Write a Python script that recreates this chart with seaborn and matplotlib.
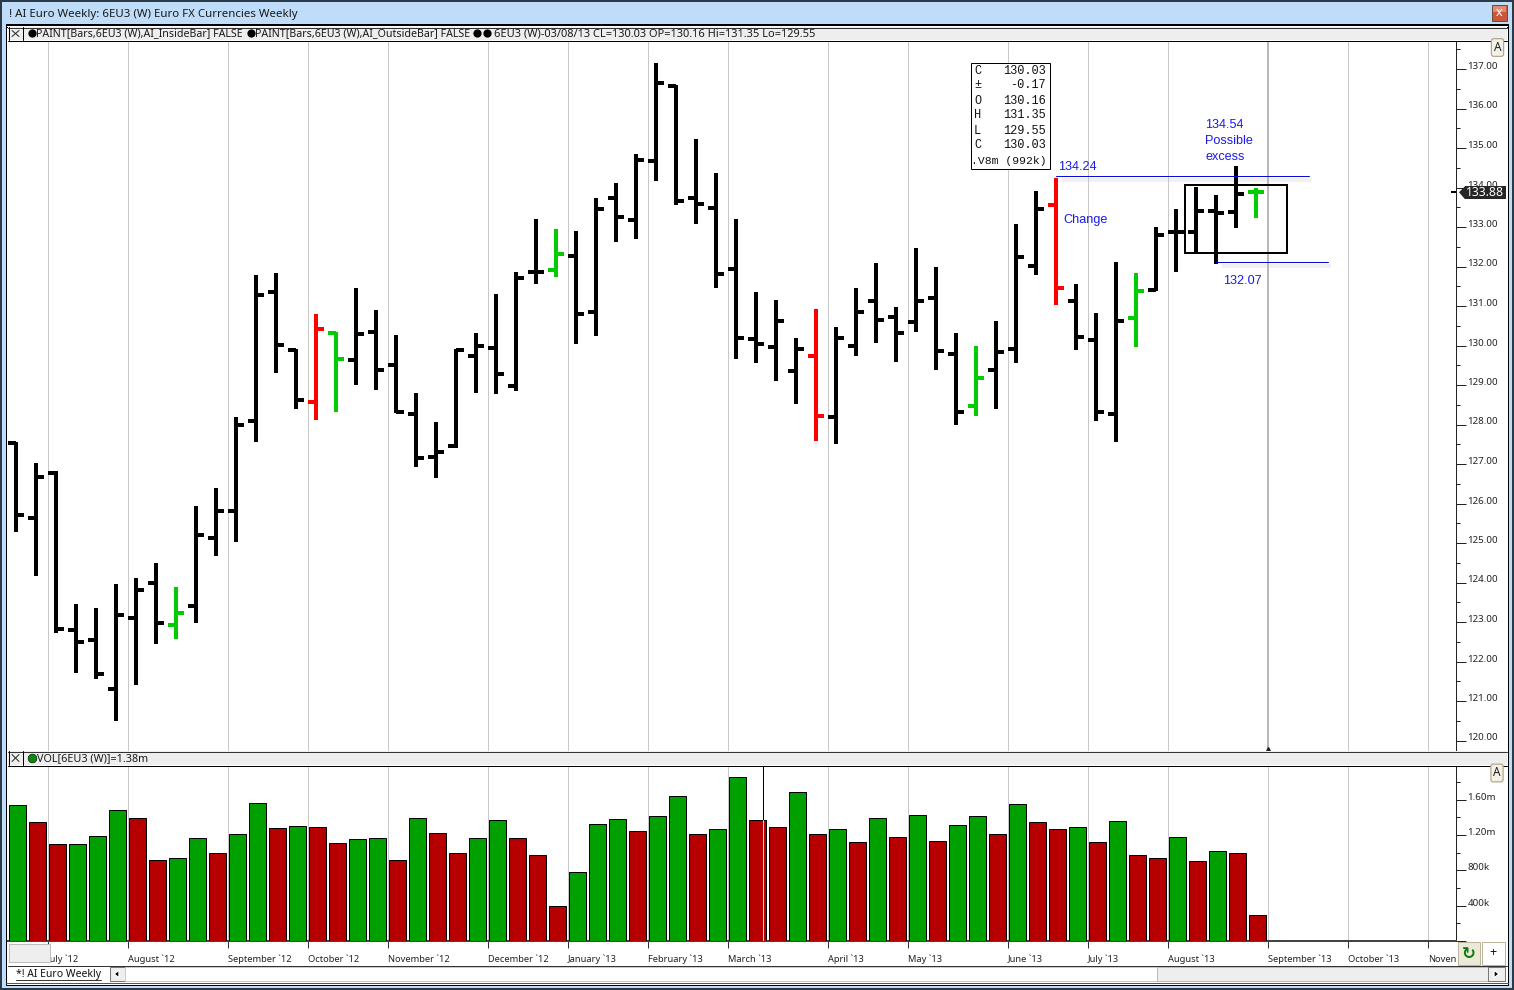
import matplotlib
matplotlib.use("Agg")
import matplotlib.pyplot as plt
from matplotlib.patches import Rectangle, Polygon
from matplotlib.ticker import MultipleLocator, FuncFormatter
import numpy as np
import pandas as pd
import seaborn as sns

# ---------- data ----------
opens = [127.54,125.64,126.77,122.80,122.54,121.30,123.10,123.99,122.92,123.41,125.13,125.81,128.09,131.35,129.89,128.57,130.32,129.63,130.34,129.51,128.27,127.18,127.46,129.73,129.94,128.97,131.86,131.91,132.27,130.85,133.73,133.18,134.67,136.57,133.73,133.48,131.94,130.16,129.97,129.36,129.74,128.20,129.99,131.13,130.73,130.60,131.21,129.79,128.48,129.39,129.92,132.02,133.56,131.13,130.15,128.27,130.70,131.41,132.87,132.87,133.41,133.39,133.88]
highs = [127.56,127.02,126.82,123.46,123.35,123.96,124.11,124.49,123.88,125.93,126.38,128.18,131.78,131.83,129.92,130.80,130.35,131.46,130.89,130.26,128.79,128.06,129.92,130.31,131.30,131.85,133.19,132.94,132.89,133.73,134.11,134.84,137.14,136.60,135.22,134.36,133.19,131.35,131.14,130.18,130.92,130.46,131.45,132.08,130.97,132.46,131.98,130.31,129.98,130.61,133.07,133.90,134.24,131.55,130.82,132.11,131.83,132.99,133.45,134.01,133.81,134.54,133.98]
lows = [125.29,124.17,122.71,121.72,121.55,120.50,121.41,122.45,122.58,122.98,124.68,125.03,127.56,129.31,128.40,128.12,128.32,128.99,128.88,128.28,126.93,126.65,127.40,128.81,128.78,128.86,131.56,131.74,130.05,130.25,132.63,132.70,134.17,133.56,133.08,131.46,129.67,129.55,129.11,128.53,127.59,127.51,129.74,130.07,129.59,130.35,129.39,127.99,128.22,128.40,129.56,131.79,131.03,129.89,128.10,127.56,129.97,131.38,131.87,132.35,132.07,132.98,133.24]
closes = [125.71,126.67,122.82,122.49,121.68,123.18,123.81,122.97,123.23,125.20,125.81,127.99,131.29,130.01,128.62,130.42,129.66,130.29,129.38,128.32,127.15,127.30,129.89,129.99,129.28,131.71,131.86,132.32,130.80,133.46,133.25,134.70,136.65,133.66,133.58,131.81,130.20,130.03,130.63,129.92,128.22,130.20,130.86,130.65,130.32,131.13,129.87,128.32,129.18,129.84,132.25,133.46,131.46,130.22,128.32,130.63,131.39,132.81,132.87,133.41,133.36,133.84,133.88]
green_bars = [8, 16, 27, 48, 56, 62]
red_bars = [15, 40, 52]

volumes_k = [1543,1350,1101,1101,1192,1486,1396,920,943,1169,1000,1215,1566,1283,1305,1294,1113,1158,1169,920,1396,1226,1000,1169,1373,1169,977,400,784,1328,1384,1249,1418,1645,1215,1271,1860,1373,1294,1690,1215,1271,1124,1396,1181,1430,1135,1317,1418,1215,1554,1350,1271,1294,1124,1362,977,943,1181,909,1022,1000,298]
volume_up = "GRRGGGRRGGRGGRGRRGGRGRRGGRRRGGGRGGRGGRRGRGRGRGRGGRGRRGRGRRGRGRR"

month_slots = [2,6,11,15,19,24,28,32,36,41,45,50,54,58,63,67,71]
month_labels = ["July `12","August `12","September `12","October `12","November `12","December `12",
                "January `13","February `13","March `13","April `13","May `13","June `13","July `13",
                "August `13","September `13","October `13","Noven"]

quote_rows = [("C","130.03"),("±","-0.17"),("O","130.16"),("H","131.35"),("L","129.55"),("C","130.03")]
last_price = 133.88
upper_note, lower_note = "134.24", "132.07"
upper_level = 134.30
lower_level = 132.11
box_top, box_bottom = 134.06, 132.34

# ---------- theme ----------
sns.set_theme(style="white")
UI = "Noto Sans"
plt.rcParams["font.family"] = [UI, "DejaVu Sans"]
W, H = 1514, 990
fig = plt.figure(figsize=(W/100, H/100), dpi=100, facecolor="white")
px = 0.72

def axes_px(l, t, r, b, **kw):
    return fig.add_axes([l/W, 1-b/H, (r-l)/W, (b-t)/H], **kw)

# background chrome
bg = axes_px(0, 0, W, H, zorder=0)
bg.set_xlim(0, W); bg.set_ylim(H, 0); bg.axis("off")
def rect(a, x0, y0, x1, y1, fc, ec="none", lw=0, **kw):
    a.add_patch(Rectangle((x0, y0), x1-x0, y1-y0, facecolor=fc, edgecolor=ec, linewidth=lw*px, **kw))
rect(bg, 0, 0, W, H, "#BFDDF9")
rect(bg, 0, 0, W, 2, "#2B3A48")
rect(bg, 0, 0, 2, H, "#2B3A48")
rect(bg, W-2, 0, W, H, "#2B3A48")
rect(bg, 0, H-2, W, H, "#2B3A48")
rect(bg, 6, 24, 1508, 985, "white", "black", 1)
bg.plot([6, 1508], [24.5, 24.5], color="black", lw=1*px)
bg.plot([6, 1508], [26.5, 26.5], color="black", lw=1*px)

# ---------- price panel ----------
ymin = 137 - (751-69)/39.5
ymax = 137 + (69-41)/39.5
xmax = (1456-8)/20
ax = axes_px(8, 41, 1456, 751, zorder=2)

rows = []
for i, (o, h, l, c) in enumerate(zip(opens, highs, lows, closes)):
    tone = "up" if i in green_bars else ("down" if i in red_bars else "plain")
    x = i + 0.4
    rows += [dict(x=x, price=l, tone=tone, unit=f"{i}s"), dict(x=x, price=h, tone=tone, unit=f"{i}s"),
             dict(x=x-0.4, price=o, tone=tone, unit=f"{i}o"), dict(x=x, price=o, tone=tone, unit=f"{i}o"),
             dict(x=x, price=c, tone=tone, unit=f"{i}c"), dict(x=x+0.4, price=c, tone=tone, unit=f"{i}c")]
ohlc = pd.DataFrame(rows)
sns.lineplot(data=ohlc, x="x", y="price", hue="tone", units="unit", estimator=None, sort=False,
             palette={"plain": "black", "up": "#00CC00", "down": "#FF0000"},
             linewidth=4*px, solid_capstyle="butt", legend=False, ax=ax, zorder=3)
ax.set_xlim(0, xmax); ax.set_ylim(ymin, ymax)
ax.set_xlabel(""); ax.set_ylabel("")
ax.set_axisbelow(True)
ax.set_xticks(month_slots); ax.set_xticklabels([])
ax.tick_params(axis="x", length=0)
ax.grid(axis="x", color="#C8C8C8", lw=1*px)
ax.grid(axis="y", visible=False)
ax.axvline(63, color="#B8B8B8", lw=2*px, zorder=1)
ax.yaxis.tick_right()
ax.yaxis.set_major_locator(MultipleLocator(1))
ax.yaxis.set_minor_locator(MultipleLocator(0.5))
ax.yaxis.set_major_formatter(FuncFormatter(lambda v, _: f"{v:.2f}"))
ax.tick_params(axis="y", which="major", length=10*px, width=1*px, color="#222222", pad=1, labelsize=7.0, labelcolor="#222222", right=True)
ax.tick_params(axis="y", which="minor", length=3.5*px, width=1*px, color="#222222", right=True)
for t in ax.get_yticklabels():
    t.set_va("baseline")
for s in ["top", "left", "bottom"]:
    ax.spines[s].set_visible(False)
ax.spines["right"].set_color("#222222"); ax.spines["right"].set_linewidth(1*px)

# annotations
BLUE = "#1A1AF0"
LINE = "#0A0AD8"
ax.plot([52.7, 65.15], [upper_level-0.1]*2, color="#BBBBBB", lw=4*px, alpha=0.2, solid_capstyle="butt", zorder=2)
ax.plot([60.7, 66.15], [lower_level-0.1]*2, color="#BBBBBB", lw=4*px, alpha=0.2, solid_capstyle="butt", zorder=2)
ax.plot([52.4, 65.05], [upper_level]*2, color=LINE, lw=1*px, zorder=4)
ax.plot([60.4, 66.0], [lower_level]*2, color=LINE, lw=1*px, zorder=4)
ax.add_patch(Rectangle((58.85, box_bottom), 5.1, box_top-box_bottom, fill=False, edgecolor="black", lw=2*px, zorder=4))
ax.plot([63], [ymin+0.02], marker="^", color="#222222", ms=5, clip_on=False, zorder=6)

# ---------- volume panel ----------
vax = axes_px(8, 766, 1456, 941, zorder=2)
vol = pd.DataFrame({"slot": np.arange(len(volumes_k)) + 0.47, "volume": volumes_k,
                    "tone": ["up" if c == "G" else "down" for c in volume_up]})
sns.barplot(data=vol, x="slot", y="volume", hue="tone", native_scale=True, dodge=False, width=0.89,
            palette={"up": "#00A000", "down": "#B60000"}, saturation=1, edgecolor="black",
            linewidth=1*px, legend=False, ax=vax, zorder=3)
vax.set_xlim(0, xmax); vax.set_ylim(0, (941-766)*11.32)
vax.set_xlabel(""); vax.set_ylabel("")
vax.set_axisbelow(True)
vax.set_xticks(month_slots)
vax.set_xticklabels(month_labels, ha="left", fontsize=6.7, color="#222222")
vax.tick_params(axis="x", length=7*px, width=1*px, color="#333333", pad=4.8, bottom=True)
vax.grid(axis="x", color="#C8C8C8", lw=1*px)
vax.grid(axis="y", visible=False)
vax.yaxis.tick_right()
vax.yaxis.set_major_locator(MultipleLocator(400))
vax.yaxis.set_minor_locator(MultipleLocator(200))
vax.yaxis.set_major_formatter(FuncFormatter(lambda v, _: "" if v <= 0 else (f"{v/1000:.2f}m" if v >= 1000 else f"{v:.0f}k")))
vax.tick_params(axis="y", which="major", length=10*px, width=1*px, color="#222222", pad=1, labelsize=7.0, labelcolor="#222222", right=True)
vax.tick_params(axis="y", which="minor", length=3.5*px, width=1*px, color="#222222", right=True)
for t in vax.get_yticklabels():
    t.set_va("baseline")
for s in ["top", "left"]:
    vax.spines[s].set_visible(False)
vax.spines["right"].set_color("#222222"); vax.spines["right"].set_linewidth(1*px)
vax.spines["bottom"].set_color("#444444"); vax.spines["bottom"].set_linewidth(2*px)
vax.axvline(37.75, ymin=volumes_k[37]/((941-766)*11.32), color="black", lw=1*px, zorder=5)
vax.axvline(37.75, ymax=volumes_k[37]/((941-766)*11.32), color="#BFE6E6", lw=1*px, zorder=5)

# ---------- overlay chrome ----------
fg = axes_px(0, 0, W, H, zorder=5)
fg.set_xlim(0, W); fg.set_ylim(H, 0); fg.axis("off"); fg.patch.set_alpha(0)

def label(x, y, s, size=8.0, color="#1A1A1A", ha="left", family=UI, **kw):
    return fg.text(x, y, s, fontsize=size, color=color, ha=ha, va="center", family=family, **kw)

label(9, 14, "! AI Euro Weekly: 6EU3 (W) Euro FX Currencies Weekly", size=8.25)

def header(y0, y1):
    rect(fg, 8, y0, 1507, y1, "#EEEEEE")
    fg.plot([8, 1507], [y0+0.5]*2, color="#333333", lw=1*px)
    fg.plot([8, 1507], [y1+0.5]*2, color="black", lw=1*px)
    fg.plot([8.5, 8.5], [y0, y1], color="black", lw=1*px)
    fg.plot([22.5, 22.5], [y0, y1], color="black", lw=1*px)
    fg.plot([12, 19], [y0+3.5, y1-3.5], color="#222222", lw=0.7)
    fg.plot([12, 19], [y1-3.5, y0+3.5], color="#222222", lw=0.7)

header(27, 40)
header(751, 765)
for cx in [32, 251, 477, 487]:
    fg.plot([cx], [33], marker="o", color="black", ms=7.5*px*1.1, mew=0)
label(36, 33.5, "PAINT[Bars,6EU3 (W),AI_InsideBar] FALSE", size=7.65)
label(255, 33.5, "PAINT[Bars,6EU3 (W),AI_OutsideBar] FALSE", size=7.65)
label(494, 33.5, "6EU3 (W)-03/08/13 CL=130.03 OP=130.16 Hi=131.35 Lo=129.55", size=7.95)
fg.plot([32], [758], marker="o", color="#0A8A0A", mec="black", mew=0.4, ms=8*px*1.1)
label(37, 758.5, "VOL[6EU3 (W)]=1.38m", size=7.75)

# close button
rect(fg, 1492, 5, 1507, 21, "#C9573C", "#6E4A44", 1)
rect(fg, 1493, 6, 1506, 12, "#E08A72")
label(1499.5, 13, "x", size=9, color="white", ha="center", fontweight="bold")

def a_button(cx, cy):
    fg.text(cx, cy, "A", fontsize=8.5, ha="center", va="center", color="#222222",
            bbox=dict(boxstyle="round,pad=0.2", fc="#F3F1E8", ec="#B5A98A", lw=0.9))
a_button(1497.5, 47.5)
a_button(1497, 773)

# price flag
yp = H - ax.transData.transform((0, last_price))[1]
rect(fg, 1465, yp-6, 1506, yp+7, "#262626")
fg.add_patch(Polygon([[1459, yp], [1465, yp-6], [1465, yp+7]], facecolor="#262626", edgecolor="none"))
rect(fg, 1451, yp-1, 1456, yp+1, "black")
label(1485.5, yp+0.5, f"{last_price:.2f}", size=8.8, color="white", ha="center")

# quote box
rect(fg, 970.5, 62.5, 1049.5, 168.5, "white", "black", 1)
MONO = "Liberation Mono"
for k, (name, val) in enumerate(quote_rows):
    y = 70.5 + 15*k
    label(974, y, name, size=8.6, family=MONO, color="#111111")
    label(1046, y, val, size=8.6, family=MONO, color="#111111", ha="right")
label(1046.5, 160.5, ".V8m (992k)", size=8.2, family=MONO, color="#111111", ha="right")

# blue notes
NOTE = 9.1
NF = "Liberation Sans"
for x, y, s in [(1058.5, 166.5, upper_note), (1063.5, 219.5, "Change"), (1205.5, 125, "134.54"),
                (1205.5, 141, "Possible"), (1205.5, 157, "excess"), (1223.5, 280.5, lower_note)]:
    label(x, y, s, size=NOTE, color=BLUE, family=NF)

# bottom bar
rect(fg, 9, 944, 50, 962, "#EEEEEE", "#BDBDBD", 1)
rect(fg, 1457, 942, 1506, 965, "white")
rect(fg, 1457.5, 942, 1480, 965, "#ECE9D8", "#BDB69C", 1)
rect(fg, 1481.5, 942, 1505, 965, "white", "#BDB69C", 1)
label(1468.5, 953.5, "↻", size=12, color="#0F7A0F", ha="center", family="DejaVu Sans", fontweight="bold")
label(1492.5, 952.5, "+", size=9, color="#111111", ha="center")
fg.plot([8, 1507], [965.5, 965.5], color="#333333", lw=1*px)
rect(fg, 7, 966, 1507, 982, "white")
label(16, 974, "*! AI Euro Weekly", size=7.5, color="#111111")
fg.plot([16, 101], [979.5, 979.5], color="#333333", lw=0.7)
rect(fg, 110, 967, 125, 981, "#EEEEEE", "#777777", 1)
fg.add_patch(Polygon([[114, 974], [119, 970], [119, 978]], facecolor="black"))
rect(fg, 125, 967, 1157, 981, "white", "#CCCCCC", 1)
rect(fg, 1157, 967, 1488, 981, "#EEEEEE", "#BBBBBB", 1)
rect(fg, 1488, 967, 1505, 981, "#EEEEEE", "#777777", 1)
fg.add_patch(Polygon([[1499, 974], [1494, 970], [1494, 978]], facecolor="black"))
fg.plot([6, 1508], [982.5, 982.5], color="#555555", lw=1*px)

fig.savefig("out.png", dpi=100)
